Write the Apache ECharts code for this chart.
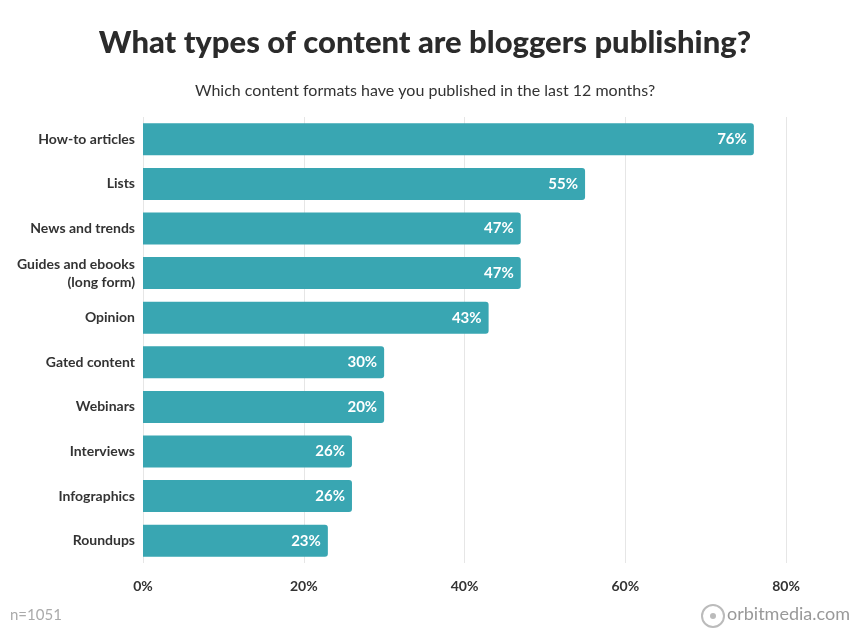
<!DOCTYPE html>
<html><head><meta charset="utf-8">
<script src="https://cdn.jsdelivr.net/npm/echarts@6/dist/echarts.min.js"></script>
<style>html,body{margin:0;padding:0;background:#fff}#c{width:850px;height:640px}</style>
</head><body><div id="c"></div>
<script>
const categories = ["How-to articles","Lists","News and trends","Guides and ebooks\n(long form)","Opinion","Gated content","Webinars","Interviews","Infographics","Roundups"];
const values = [76,55,47,47,43,30,30,26,26,23];
const labels = ["76%","55%","47%","47%","43%","30%","20%","26%","26%","23%"];
const ticks = [0,20,40,60,80];

const chart = echarts.init(document.getElementById('c'));
chart.setOption({
  animation:false,
  textStyle:{fontFamily:'Lato'},
  title:[
    {text:'What types of content are bloggers publishing?',left:'center',top:22,textStyle:{fontSize:31,fontWeight:900,color:'#2b2b2b',fontFamily:'Lato'}},
    {text:'Which content formats have you published in the last 12 months?',left:'center',top:78,textStyle:{fontSize:16,fontWeight:'normal',color:'#333',fontFamily:'Lato'}}
  ],
  grid:{left:143,right:64,top:117,bottom:77},
  xAxis:{type:'value',min:0,max:80,interval:20,
    axisLabel:{formatter:v=>v+'%',color:'#333',fontSize:14,fontWeight:'bold',margin:16},
    splitLine:{lineStyle:{color:'#e6e6e6'}},axisLine:{show:false},axisTick:{show:false}},
  yAxis:{type:'category',inverse:true,data:categories,
    axisLabel:{color:'#333',fontSize:14,fontWeight:'bold',margin:8,lineHeight:18},
    axisLine:{show:false},axisTick:{show:false}},
  series:[{type:'bar',data:values,barWidth:32,
    itemStyle:{color:'#39a6b2',borderRadius:[0,3,3,0]},
    label:{show:true,position:'insideRight',color:'#fff',fontSize:15,fontWeight:'bold',offset:[-2,0],
      formatter:p=>labels[p.dataIndex]}}],
  graphic:[
    {type:'text',left:10,top:608,style:{text:'n=1051',fill:'#aaa',fontSize:15,fontFamily:'Lato'}},
    {type:'circle',shape:{cx:713,cy:616,r:11},style:{fill:'none',stroke:'#bbb',lineWidth:2}},
    {type:'circle',shape:{cx:713,cy:616,r:3},style:{fill:'#bbb'}},
    {type:'text',left:727,top:605,style:{text:'orbitmedia.com',fill:'#999',fontSize:18,fontFamily:'Lato'}}
  ]
});
</script></body></html>
